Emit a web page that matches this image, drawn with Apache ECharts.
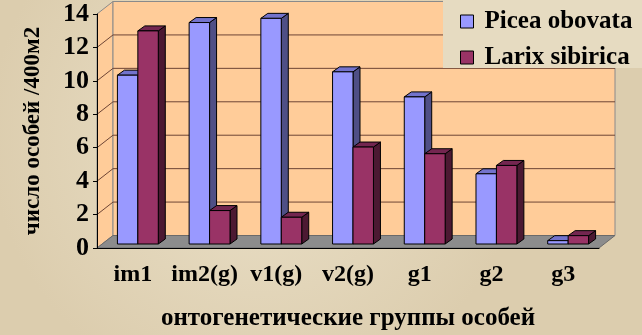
<!DOCTYPE html>
<html>
<head>
<meta charset="utf-8">
<script src="https://cdn.jsdelivr.net/npm/echarts@6/dist/echarts.min.js"></script>
<style>
  html, body { margin: 0; padding: 0; }
  #chart { width: 642px; height: 335px; }
</style>
</head>
<body>
<div id="chart"></div>
<script>
// онтогенетические группы
var categories = ['im1', 'im2(g)', 'v1(g)', 'v2(g)', 'g1', 'g2', 'g3'];
var piceaValues = [10.1, 13.25, 13.5, 10.3, 8.8, 4.2, 0.2];
var larixValues = [12.75, 2.0, 1.6, 5.8, 5.4, 4.7, 0.5];
var yTicks = [0, 2, 4, 6, 8, 10, 12, 14];

var FONT = 'Liberation Serif';
// глубина "3D" стенок и смещение столбиков
var DX = 16, DY = -12.5;
var FX = 5, FY = -4, BX = 7, BY = -5;

var chart = echarts.init(document.getElementById('chart'));

// стенки, пол и линии сетки
function renderWalls(params, api) {
  var cs = params.coordSys;
  var x0 = cs.x, x1 = cs.x + cs.width;
  var yb = api.coord([0, 0])[1];
  var yt = api.coord([0, 14])[1];
  var kids = [];
  kids.push({ type: 'polygon', shape: { points: [[x0, yb], [x0, yt], [x0 + DX, yt + DY], [x0 + DX, yb + DY]] },
    style: { fill: '#FFCC99', stroke: '#8a8a8a', lineWidth: 1 } });
  kids.push({ type: 'rect', shape: { x: x0 + DX, y: yt + DY, width: x1 - x0, height: yb - yt } ,
    style: { fill: '#FFCC99', stroke: '#8a8a8a', lineWidth: 1 } });
  for (var k = 1; k < yTicks.length - 1; k++) {
    var y = api.coord([0, yTicks[k]])[1];
    kids.push({ type: 'line', shape: { x1: x0 + DX, y1: y + DY, x2: x1 + DX, y2: y + DY },
      style: { stroke: '#6e4535', lineWidth: 1 } });
    kids.push({ type: 'line', shape: { x1: x0, y1: y, x2: x0 + DX, y2: y + DY },
      style: { stroke: '#6e4535', lineWidth: 1 } });
  }
  kids.push({ type: 'polygon', shape: { points: [[x0, yb], [x1, yb], [x1 + DX, yb + DY], [x0 + DX, yb + DY]] },
    style: { fill: '#8c8c8c', stroke: '#6a6a6a', lineWidth: 1 } });
  return { type: 'group', children: kids };
}

function barRender(side, front, sideCol, topCol) {
  return function (params, api) {
    var i = api.value(0), v = api.value(1);
    var base = api.coord([i, 0]);
    var top = api.coord([i, v]);
    var w = api.size([1, 0])[0] * 0.285;
    var xl = (side < 0 ? base[0] - w : base[0]) + FX;
    var xr = xl + w;
    var yb = base[1] + FY, yt = top[1] + FY;
    var st = { stroke: '#000', lineWidth: 1, lineJoin: 'round' };
    return {
      type: 'group',
      children: [
        { type: 'polygon', shape: { points: [[xr, yb], [xr, yt], [xr + BX, yt + BY], [xr + BX, yb + BY]] },
          style: Object.assign({ fill: sideCol }, st) },
        { type: 'polygon', shape: { points: [[xl, yt], [xr, yt], [xr + BX, yt + BY], [xl + BX, yt + BY]] },
          style: Object.assign({ fill: topCol }, st) },
        { type: 'rect', shape: { x: xl, y: yt, width: w, height: yb - yt },
          style: Object.assign({ fill: front }, st) }
      ]
    };
  };
}

var option = {
  backgroundColor: {
    type: 'radial', x: 0.4, y: 0.4, r: 0.8,
    colorStops: [{ offset: 0, color: '#ebe1c9' }, { offset: 1, color: '#dccdae' }]
  },
  animation: false,
  grid: { left: 97, right: 43, top: 14, bottom: 87, containLabel: false, outerBoundsMode: 'none' },
  legend: {
    orient: 'vertical',
    left: 455, top: 4,
    itemWidth: 13, itemHeight: 13, itemGap: 11,
    z: 20,
    textStyle: { fontFamily: FONT, fontWeight: 'bold', fontSize: 25, color: '#000', padding: [0, 0, 0, 6] },
    data: [
      { name: 'Picea obovata', icon: 'rect', itemStyle: { color: '#9999FF', borderColor: '#000', borderWidth: 1 } },
      { name: 'Larix sibirica', icon: 'rect', itemStyle: { color: '#993366', borderColor: '#000', borderWidth: 1 } }
    ]
  },
  graphic: [
    { type: 'rect', z: 15, shape: { x: 443, y: 0, width: 199, height: 68 },
      style: { fill: '#e6dbc1' } }
  ],
  xAxis: {
    type: 'category',
    data: categories,
    name: 'онтогенетические группы особей',
    nameLocation: 'middle',
    nameGap: 58,
    nameTextStyle: { fontFamily: FONT, fontWeight: 'bold', fontSize: 25, color: '#000' },
    axisLine: { lineStyle: { color: '#000', width: 1 } },
    axisTick: { length: 4, lineStyle: { color: '#000' } },
    axisLabel: { interval: 0, fontFamily: FONT, fontWeight: 'bold', fontSize: 24, color: '#000', margin: 15 },
    z: 5
  },
  yAxis: {
    type: 'value',
    min: 0, max: 14, interval: 2,
    name: 'число особей /400м2',
    nameLocation: 'middle',
    nameRotate: 90,
    nameGap: 52,
    nameTextStyle: { fontFamily: FONT, fontWeight: 'bold', fontSize: 23, color: '#000' },
    axisLine: { show: true, lineStyle: { color: '#000', width: 1 } },
    axisTick: { show: true, length: 4, lineStyle: { color: '#000' } },
    axisLabel: { fontFamily: FONT, fontWeight: 'bold', fontSize: 26, color: '#000', margin: 8 },
    splitLine: { show: false },
    z: 5
  },
  series: [
    { type: 'custom', name: 'walls', z: 1, silent: true, data: [[0, 0]], renderItem: renderWalls },
    { type: 'custom', name: 'Picea obovata', z: 3,
      itemStyle: { color: '#9999FF' },
      data: piceaValues.map(function (v, i) { return [i, v]; }),
      renderItem: barRender(-1, '#9999FF', '#4f4f86', '#7373cc') },
    { type: 'custom', name: 'Larix sibirica', z: 4,
      itemStyle: { color: '#993366' },
      data: larixValues.map(function (v, i) { return [i, v]; }),
      renderItem: barRender(1, '#993366', '#4c1932', '#732650') }
  ]
};
chart.setOption(option);
</script>
</body>
</html>
